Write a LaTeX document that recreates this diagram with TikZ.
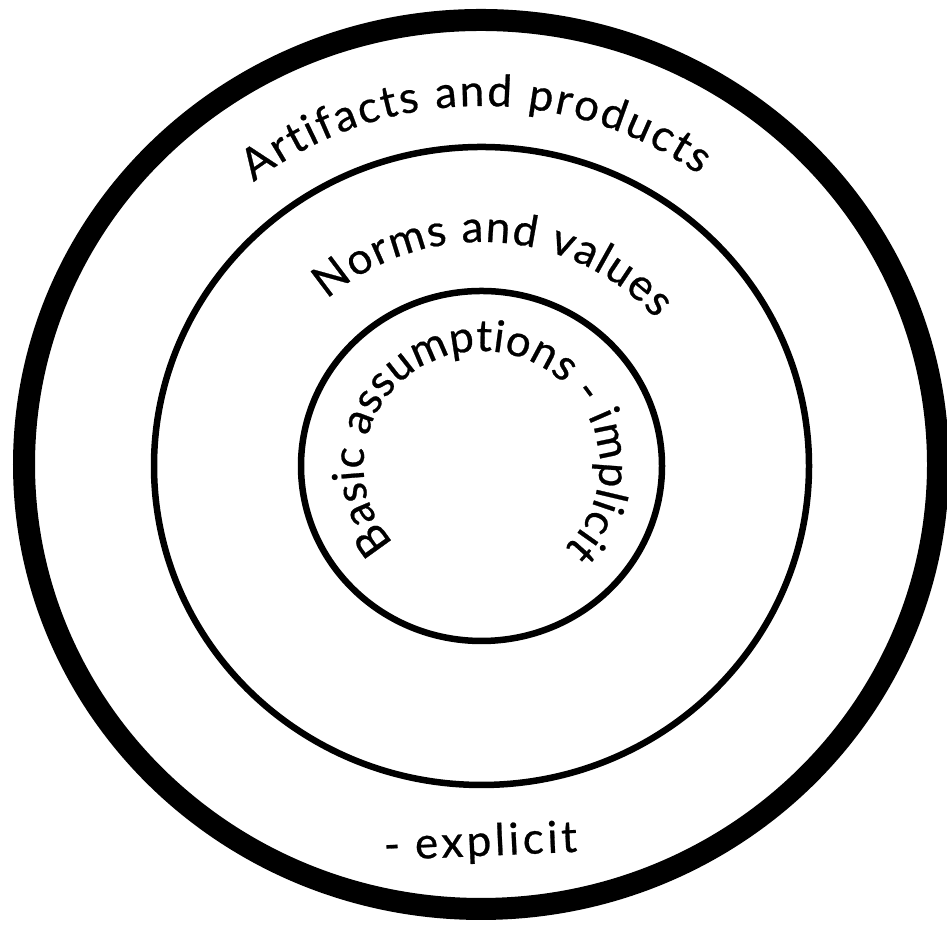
\documentclass[tikz,border=0pt]{standalone}
\usepackage{fontspec}
\setmainfont{Lato}
\newfontfamily\ringfamily[FakeBold=0.6]{Lato}
\usepackage{tikz}
\usetikzlibrary{decorations.text}

\newcommand{\ringfont}{\ringfamily\fontsize{12.5pt}{15pt}\selectfont}

\begin{document}
\begin{tikzpicture}[
    ring/.style={draw=black, line width=0.065cm},
    outerring/.style={draw=black, line width=0.22cm},
    ringtext/.style={decorate, decoration={text along path, text align={fit to path}}}]
  \useasboundingbox (0,0) rectangle (9.47,9.28);
  \coordinate (c) at (4.815,4.62);
  % ---------- rings ----------
  \draw[outerring] (4.81,4.635) ellipse [x radius=4.57, y radius=4.445];
  \draw[ring] (c) ellipse [x radius=3.275, y radius=3.19];
  \draw[ring] (c) ellipse [x radius=1.805, y radius=1.75];
  % ---------- curved labels ----------
  \path[ringtext, decoration={text={|\ringfont|Artifacts and products}}]
    (c) ++(128:3.70 and 3.60) arc[start angle=128, end angle=54, x radius=3.70, y radius=3.60];
  \path[ringtext, decoration={text={|\ringfont|Norms and values}}]
    (c) ++(132:2.31 and 2.24) arc[start angle=132, end angle=41, x radius=2.31, y radius=2.24];
  \path[ringtext, decoration={text={|\ringfont|Basic assumptions - implicit}}]
    (c) ++(222:1.18 and 1.15) arc[start angle=222, end angle=-45, x radius=1.18, y radius=1.15];
  % ---------- straight label ----------
  \node[anchor=base, rotate=2.5, inner sep=0pt, font=\ringfont\addfontfeature{LetterSpace=8}] (explicit) at (4.81,0.72) {- explicit};
\end{tikzpicture}
\end{document}
